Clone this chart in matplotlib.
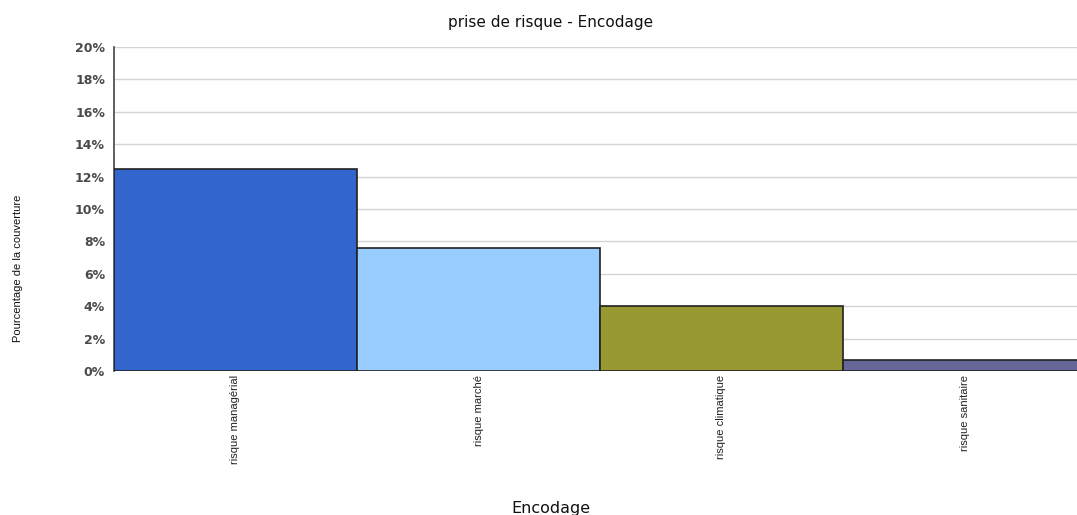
import numpy as np
import matplotlib.pyplot as plt

categories = ['risque managérial', 'risque marché', 'risque climatique', 'risque sanitaire']
values = [12.5, 7.6, 4.0, 0.7]
colors = ['#3366CC', '#99CCFF', '#999933', '#666699']
yticks = [0, 2, 4, 6, 8, 10, 12, 14, 16, 18, 20]

label_font = ['Liberation Sans', 'DejaVu Sans']

fig = plt.figure(figsize=(10.77, 5.15), dpi=100)
# plot area runs past the right edge of the picture, as in the original
ax = fig.add_axes([114 / 1077, 1 - 371 / 515, 972 / 1077, 324 / 515])

x = np.arange(len(categories))
ax.bar(x, values, width=1.0, color=colors, edgecolor='#222222', linewidth=1.2, zorder=3)

ax.set_xlim(-0.5, len(categories) - 0.5)
ax.set_ylim(0, 20)
ax.set_yticks(yticks)
ax.set_yticklabels([f'{t}%' for t in yticks], fontsize=9, fontweight='bold',
                   color='#4a4a4a', family='DejaVu Sans')
ax.yaxis.grid(True, color='#d4d4d4', linewidth=1, zorder=0)
ax.tick_params(axis='y', length=0, pad=6.5)

ax.set_xticks(x)
ax.set_xticklabels(categories, rotation=90, va='top', fontsize=8,
                   color='#222222', family=label_font)
ax.tick_params(axis='x', length=0, pad=3)

for s in ['top', 'right', 'bottom']:
    ax.spines[s].set_visible(False)
ax.spines['left'].set_color('#444444')
ax.spines['left'].set_linewidth(1.2)

fig.text(551 / 1077, 1 - 22 / 515, 'prise de risque - Encodage', ha='center', va='center',
         fontsize=11, color='#111111', family='DejaVu Sans')
fig.text(551 / 1077, 1 - 509 / 515, 'Encodage', ha='center', va='center',
         fontsize=11.5, color='#111111', family='DejaVu Sans')
fig.text(18 / 1077, 1 - 268 / 515, 'Pourcentage de la couverture', rotation=90,
         ha='center', va='center', fontsize=8, color='#111111', family=label_font)

fig.savefig('out.png', dpi=100)
